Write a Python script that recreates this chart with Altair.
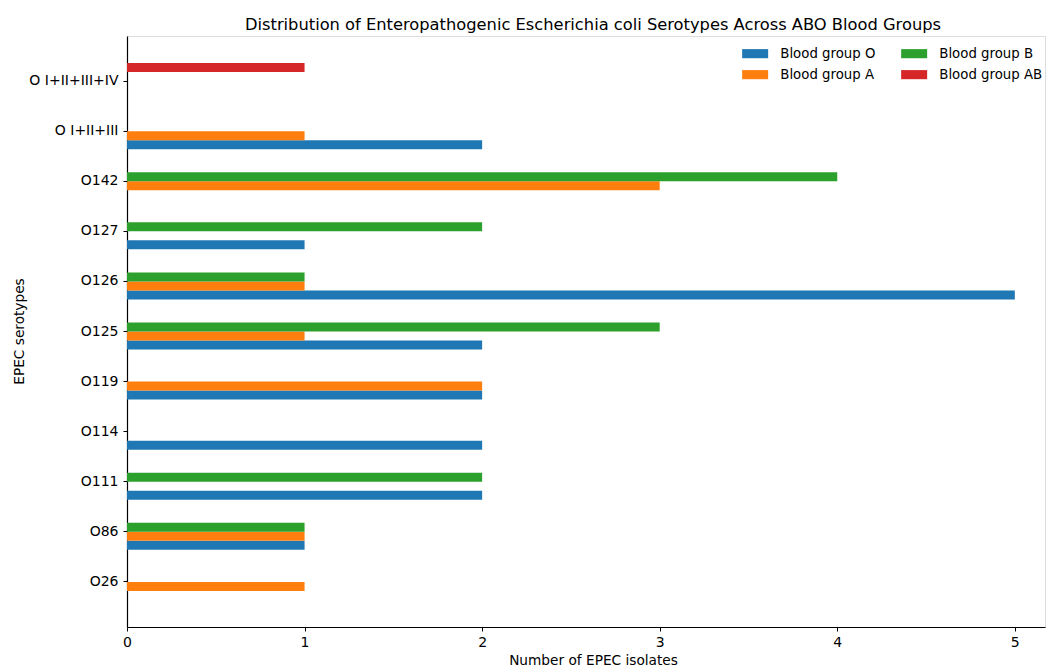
import altair as alt
import pandas as pd

# EPEC serotypes, bottom to top as they appear on the axis
serotypes = ["O26", "O86", "O111", "O114", "O119", "O125", "O126", "O127",
             "O142", "O I+II+III", "O I+II+III+IV"]

# isolate counts per blood group
group_O = [0, 1, 2, 2, 2, 2, 5, 1, 0, 2, 0]
group_A = [1, 1, 0, 0, 2, 1, 1, 0, 3, 1, 0]
group_B = [0, 1, 2, 0, 0, 3, 1, 2, 4, 0, 0]
group_AB = [0, 0, 0, 0, 0, 0, 0, 0, 0, 0, 1]

groups = ["Blood group O", "Blood group A", "Blood group B", "Blood group AB"]
colors = ["#1f77b4", "#ff7f0e", "#2ca02c", "#d62728"]

rows = []
for name, values in zip(groups, [group_O, group_A, group_B, group_AB]):
    for s, v in zip(serotypes, values):
        rows.append({"serotype": s, "group": name, "count": v})
df = pd.DataFrame(rows)

FONT = "DejaVu Sans"

chart = (
    alt.Chart(df)
    .transform_filter("datum.count > 0")
    .mark_bar(opacity=1)
    .encode(
        x=alt.X(
            "count:Q",
            scale=alt.Scale(domain=[0, 5.17], nice=False, zero=True),
            axis=alt.Axis(
                title="Number of EPEC isolates",
                values=[0, 1, 2, 3, 4, 5],
                format="d",
                grid=False,
                labelFlush=False,
                tickSize=4,
                tickColor="black",
                domainColor="black",
                labelFont=FONT,
                labelFontSize=14,
                labelColor="black",
                labelPadding=4,
                titleFont=FONT,
                titleFontSize=13.7,
                titleFontWeight="normal",
                titleColor="black",
                titleX=466,
                titleY=37,
                titleBaseline="alphabetic",
            ),
        ),
        y=alt.Y(
            "serotype:N",
            sort=serotypes[::-1],
            scale=alt.Scale(paddingInner=0.28, paddingOuter=0.54),
            axis=alt.Axis(
                title="EPEC serotypes",
                grid=False,
                tickSize=4,
                tickColor="black",
                domainColor="black",
                domainWidth=1.2,
                labelFont=FONT,
                labelFontSize=14,
                labelColor="black",
                labelPadding=5,
                titleFont=FONT,
                titleFontSize=13.7,
                titleFontWeight="normal",
                titleColor="black",
                titleX=-108,
                titleY=295,
                titleBaseline="middle",
            ),
        ),
        yOffset=alt.YOffset(
            "group:N",
            sort=["Blood group AB", "Blood group B", "Blood group A", "Blood group O"],
            scale=alt.Scale(paddingInner=0, paddingOuter=0),
        ),
        color=alt.Color(
            "group:N",
            scale=alt.Scale(domain=groups, range=colors),
            legend=alt.Legend(
                title=None,
                orient="none",
                legendX=615,
                legendY=11,
                columns=2,
                columnPadding=25,
                rowPadding=7,
                padding=0,
                symbolType="M-1,-0.7h4v1.4h-4z",
                symbolSize=169,
                symbolStrokeWidth=0,
                symbolOpacity=1,
                labelOffset=25,
                labelFont=FONT,
                labelFontSize=13.3,
                labelColor="black",
            ),
        ),
    )
    .properties(
        width=918,
        height=591,
        padding={"left": 127, "top": 36, "right": 2, "bottom": 40},
        autosize=alt.AutoSizeParams(type="none"),
        title=alt.TitleParams(
            "Distribution of Enteropathogenic Escherichia coli Serotypes Across ABO Blood Groups",
            font=FONT,
            fontSize=16.3,
            fontWeight="normal",
            color="black",
            anchor="middle",
            frame="group",
            baseline="alphabetic",
            offset=7,
            dx=7,
            dy=17,
        ),
    )
    .configure_view(stroke=None)
    .configure(background="white")
)

chart.save("out.html", embed_options={"renderer": "svg", "actions": False})
